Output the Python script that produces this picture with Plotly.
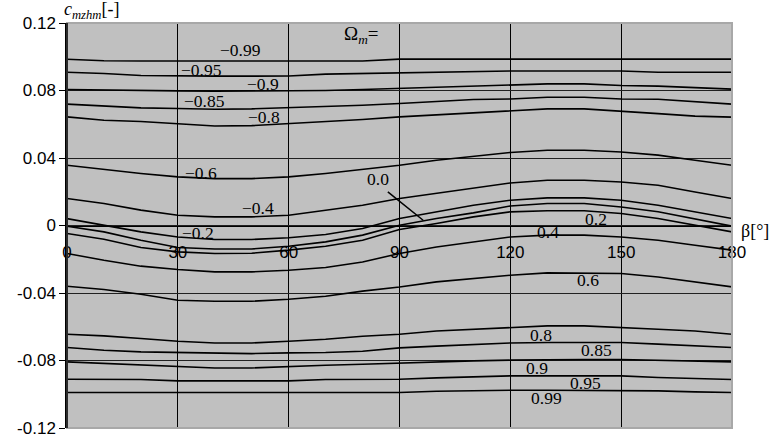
import plotly.graph_objects as go

beta = [0, 10, 20, 30, 40, 50, 60, 70, 80, 90, 100, 110, 120, 130, 140, 150, 160, 170, 180]

omega_names = ["-0.99", "-0.95", "-0.9", "-0.85", "-0.8", "-0.6", "-0.4", "-0.2", "0.0",
               "0.2", "0.4", "0.6", "0.8", "0.85", "0.9", "0.95", "0.99"]

c_m099 = [0.0985, 0.0976, 0.0975, 0.0975, 0.0975, 0.0975, 0.0975, 0.0975, 0.0975, 0.0986,
          0.0986, 0.0986, 0.0986, 0.0986, 0.0986, 0.0986, 0.0986, 0.0986, 0.0986]
c_m095 = [0.0908, 0.0901, 0.0889, 0.0885, 0.0885, 0.0885, 0.0886, 0.0897, 0.0901, 0.0905,
          0.0908, 0.0912, 0.0916, 0.0916, 0.0916, 0.0916, 0.0908, 0.0908, 0.0908]
c_m090 = [0.0806, 0.0802, 0.0800, 0.0798, 0.0796, 0.0796, 0.0796, 0.0800, 0.0806, 0.0812,
          0.0818, 0.0826, 0.0830, 0.0839, 0.0839, 0.0830, 0.0826, 0.0818, 0.0808]
c_m085 = [0.0719, 0.0707, 0.0697, 0.0693, 0.0689, 0.0691, 0.0697, 0.0707, 0.0713, 0.0723,
          0.0735, 0.0747, 0.0750, 0.0760, 0.0760, 0.0750, 0.0748, 0.0733, 0.0719]
c_m080 = [0.0644, 0.0624, 0.0616, 0.0604, 0.0590, 0.0592, 0.0604, 0.0614, 0.0628, 0.0644,
          0.0656, 0.0670, 0.0679, 0.0691, 0.0691, 0.0679, 0.0663, 0.0648, 0.0642]
c_m060 = [0.0357, 0.0332, 0.0308, 0.0288, 0.0278, 0.0278, 0.0288, 0.0308, 0.0332, 0.0357,
          0.0387, 0.0411, 0.0433, 0.0446, 0.0446, 0.0436, 0.0417, 0.0387, 0.0357]
c_m040 = [0.0160, 0.0130, 0.0091, 0.0061, 0.0051, 0.0051, 0.0061, 0.0091, 0.0120, 0.0160,
          0.0190, 0.0223, 0.0252, 0.0268, 0.0268, 0.0258, 0.0239, 0.0199, 0.0160]
c_m020 = [0.0041, 0.0002, -0.0038, -0.0068, -0.0083, -0.0083, -0.0073, -0.0053, -0.0018, 0.0041,
          0.0081, 0.0120, 0.0150, 0.0164, 0.0164, 0.0150, 0.0120, 0.0081, 0.0041]
c_000 = [-0.0004, -0.0038, -0.0087, -0.0130, -0.0139, -0.0139, -0.0123, -0.0097, -0.0057, 0.0002,
         0.0041, 0.0075, 0.0116, 0.0130, 0.0130, 0.0110, 0.0081, 0.0037, -0.0004]
c_020 = [-0.0047, -0.0081, -0.0130, -0.0156, -0.0166, -0.0164, -0.0146, -0.0123, -0.0087, -0.0024,
         0.0012, 0.0051, 0.0081, 0.0087, 0.0087, 0.0071, 0.0041, 0.0002, -0.0038]
c_040 = [-0.0166, -0.0206, -0.0241, -0.0261, -0.0275, -0.0275, -0.0265, -0.0249, -0.0216, -0.0166,
         -0.0127, -0.0097, -0.0068, -0.0057, -0.0057, -0.0068, -0.0087, -0.0117, -0.0146]
c_060 = [-0.0360, -0.0379, -0.0407, -0.0443, -0.0449, -0.0449, -0.0437, -0.0419, -0.0389, -0.0364,
         -0.0334, -0.0314, -0.0295, -0.0281, -0.0281, -0.0284, -0.0305, -0.0334, -0.0364]
c_080 = [-0.0644, -0.0654, -0.0670, -0.0686, -0.0696, -0.0696, -0.0686, -0.0674, -0.0656, -0.0644,
         -0.0625, -0.0615, -0.0607, -0.0595, -0.0595, -0.0607, -0.0615, -0.0625, -0.0644]
c_085 = [-0.0723, -0.0739, -0.0749, -0.0753, -0.0759, -0.0759, -0.0755, -0.0753, -0.0745, -0.0725,
         -0.0715, -0.0705, -0.0696, -0.0693, -0.0693, -0.0693, -0.0703, -0.0713, -0.0723]
c_090 = [-0.0808, -0.0818, -0.0828, -0.0834, -0.0844, -0.0844, -0.0834, -0.0828, -0.0822, -0.0814,
         -0.0808, -0.0802, -0.0798, -0.0794, -0.0794, -0.0794, -0.0800, -0.0806, -0.0808]
c_095 = [-0.0911, -0.0911, -0.0913, -0.0921, -0.0921, -0.0921, -0.0921, -0.0913, -0.0911, -0.0911,
         -0.0903, -0.0895, -0.0891, -0.0891, -0.0891, -0.0891, -0.0901, -0.0909, -0.0913]
c_099 = [-0.0990, -0.0990, -0.0990, -0.0990, -0.0990, -0.0990, -0.0990, -0.0990, -0.0990, -0.0990,
         -0.0982, -0.0978, -0.0976, -0.0976, -0.0976, -0.0976, -0.0980, -0.0986, -0.0990]

series = [c_m099, c_m095, c_m090, c_m085, c_m080, c_m060, c_m040, c_m020, c_000,
          c_020, c_040, c_060, c_080, c_085, c_090, c_095, c_099]

# curve labels: text, beta, c
label_text = ["\u22120.99", "\u22120.95", "\u22120.9", "\u22120.85", "\u22120.8", "\u22120.6", "\u22120.4",
              "\u22120.2", "0.0", "0.2", "0.4", "0.6", "0.8", "0.85", "0.9", "0.95", "0.99"]
label_x = [46.9, 36.3, 53.0, 37.2, 53.4, 36.3, 51.8, 35.5, 84.1, 143.2, 130.1, 140.9,
           128.3, 143.2, 127.2, 140.3, 129.7]
label_y = [0.1039, 0.0920, 0.0841, 0.0738, 0.0644, 0.0314, 0.0104, -0.0044, 0.0273, 0.0041,
           -0.0038, -0.0324, -0.0646, -0.0739, -0.0842, -0.0933, -0.1022]

x_ticks = [0, 30, 60, 90, 120, 150, 180]
y_ticks = [-0.12, -0.08, -0.04, 0, 0.04, 0.08, 0.12]
y_tick_text = ["-0.12", "-0.08", "-0.04", "0", "0.04", "0.08", "0.12"]

fig = go.Figure()
for name, vals in zip(omega_names, series):
    fig.add_trace(go.Scatter(x=beta, y=vals, mode="lines", name=name,
                             line=dict(color="black", width=1.6), showlegend=False,
                             hoverinfo="skip"))

serif = "Liberation Serif, Times New Roman, serif"
sans = "Liberation Sans, Arial, sans-serif"

annotations = []
for t, lx, ly in zip(label_text, label_x, label_y):
    annotations.append(dict(x=lx, y=ly, xref="x", yref="y", text=t, showarrow=False,
                            font=dict(family=serif, size=17.5, color="black")))
# leader line for 0.0
annotations.append(dict(x=96.4, y=0.0031, ax=86.3, ay=0.0209, xref="x", yref="y",
                        axref="x", ayref="y", text=" ", showarrow=True, arrowhead=0,
                        arrowwidth=1.5, arrowcolor="black",
                        font=dict(family=serif, size=4, color="black")))
annotations.append(dict(x=79.6, y=0.1128, xref="x", yref="y", text="\u03a9<sub><i>m</i></sub>=",
                        showarrow=False, font=dict(family=serif, size=19, color="black")))
annotations.append(dict(x=-0.008, y=1.0, xref="paper", yref="paper", xanchor="left", yanchor="bottom",
                        yshift=-1,
                        text="<i>c</i><sub><i>mzhm</i></sub>[-]", showarrow=False,
                        font=dict(family=serif, size=18, color="black")))
annotations.append(dict(x=1.0, y=0.5, xref="paper", yref="paper", xanchor="left", yanchor="middle",
                        xshift=7, yshift=-5, text="\u03b2[\u00b0]", showarrow=False,
                        font=dict(family=serif, size=18, color="black")))

fig.update_layout(
    width=770, height=441,
    margin=dict(l=67, r=38, t=23, b=13, autoexpand=False),
    paper_bgcolor="white", plot_bgcolor="#c0c0c0",
    annotations=annotations,
    xaxis=dict(range=[0, 180], tickvals=x_ticks, ticktext=[str(v) for v in x_ticks],
               showgrid=True, gridcolor="black", gridwidth=1, zeroline=False,
               showline=True, linecolor="black", linewidth=1,
               anchor="free", position=0.5, ticks="", ticklabelstandoff=11,
               tickfont=dict(family=sans, size=17, color="black")),
    yaxis=dict(range=[-0.12, 0.12], tickvals=y_ticks, ticktext=y_tick_text,
               showgrid=True, gridcolor="#202020", gridwidth=1, zeroline=False,
               showline=True, linecolor="black", linewidth=1.5,
               ticks="outside", ticklen=6, tickcolor="black",
               tickfont=dict(family=sans, size=17, color="black")),
    shapes=[dict(type="rect", xref="paper", yref="paper", x0=0, x1=1, y0=0, y1=1,
                 line=dict(color="#a8a8a8", width=2), layer="above"),
            dict(type="line", xref="paper", yref="paper", x0=0, x1=0, y0=0, y1=1,
                 line=dict(color="black", width=1.5), layer="above")],
)

fig.write_html("out.html", config={"displayModeBar": False},
               post_script="document.body.style.margin='0';document.body.style.overflow='hidden';")
